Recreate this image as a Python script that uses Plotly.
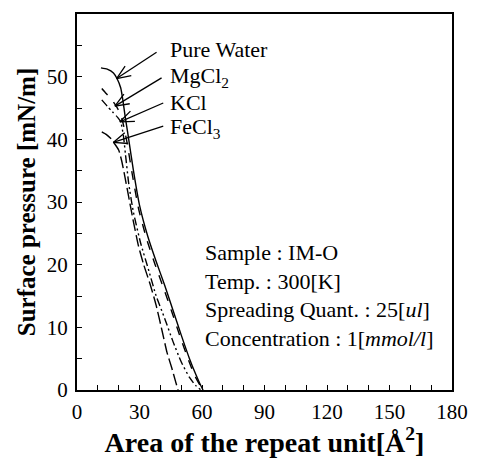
import math
import plotly.graph_objects as go

# ---- data ----
pw_x = [11.5, 14.5, 17.5, 19.2, 21.0, 22.0, 23.0, 24.5, 27.0, 30.0, 34.0, 38.0, 42.0, 46.0, 50.0, 54.0, 57.0, 59.0, 60.5]
pw_y = [51.4, 51.2, 50.6, 49.7, 48.2, 46.3, 43.9, 40.7, 35.2, 29.5, 24.5, 20.5, 16.8, 12.8, 8.8, 5.0, 2.5, 1.0, 0.0]

mg_x = [11.9, 14.0, 16.5, 18.6, 21.0, 22.5, 24.0, 26.5, 29.5, 33.5, 37.5, 41.5, 45.5, 49.5, 53.5, 56.5, 59.0, 61.0]
mg_y = [48.1, 47.3, 46.4, 45.4, 44.0, 42.0, 39.5, 34.5, 29.0, 24.0, 20.0, 16.3, 12.5, 8.5, 4.8, 2.3, 0.8, 0.0]

k_x = [11.9, 14.5, 17.0, 19.5, 21.0, 22.3, 23.3, 24.8, 27.0, 30.5, 34.5, 38.0, 42.0, 46.0, 50.0, 54.0, 57.0, 59.5]
k_y = [46.3, 45.3, 44.4, 43.5, 42.8, 40.5, 37.5, 33.0, 28.5, 23.5, 19.0, 15.0, 11.5, 7.8, 4.5, 2.0, 0.7, 0.0]

fe_x = [11.9, 14.0, 16.0, 17.6, 20.0, 21.5, 23.0, 25.0, 27.0, 29.5, 32.0, 35.0, 38.0, 40.8, 43.2, 45.5, 47.2, 48.5]
fe_y = [41.2, 40.8, 40.2, 39.5, 38.3, 36.5, 34.0, 30.5, 27.0, 23.0, 20.0, 17.0, 13.5, 9.5, 6.0, 3.5, 1.5, 0.0]

labels = ["Pure Water", "MgCl<sub>2</sub>", "KCl", "FeCl<sub>3</sub>"]
label_x = [43.7, 43.7, 43.7, 43.7]
label_y = [54.3, 50.0, 45.8, 41.8]
arrow_tail_x = [38.2, 40.6, 41.4, 41.4]
arrow_tail_y = [53.9, 49.8, 45.8, 42.1]
arrow_head_x = [19.0, 18.2, 20.6, 17.4]
arrow_head_y = [49.7, 45.3, 42.8, 39.5]

info_lines = ["Sample : IM-O", "Temp. : 300[K]", "Spreading Quant. : 25[<i>ul</i>]",
              "Concentration : 1[<i>mmol/l</i>]"]
info_y = [21.9, 17.3, 12.8, 8.2]

x_ticks = [0, 30, 60, 90, 120, 150, 180]
y_ticks = [0, 10, 20, 30, 40, 50, 60]

FONT = "Liberation Serif"
# page body has an 8px margin, so the figure is sized to fit the remaining window
W, H = 477, 450
ML, MR, MT, MB = 69, 33, 6, 68
XR, YR = [0, 180], [0, 60]
PXX = (W - ML - MR) / (XR[1] - XR[0])   # px per x unit
PXY = (H - MT - MB) / (YR[1] - YR[0])   # px per y unit

fig = go.Figure()
series = [(pw_x, pw_y, "solid"), (mg_x, mg_y, "dash"),
          (k_x, k_y, "8px,3px,2px,3px,2px,3px"), (fe_x, fe_y, "12px,4px")]
for xs, ys, dash in series:
    fig.add_trace(go.Scatter(x=xs, y=ys, mode="lines",
                             line=dict(color="black", width=1.4, dash=dash, shape="spline", smoothing=0.5),
                             showlegend=False, hoverinfo="skip"))

# arrows: shaft plus open V head, head geometry built in pixel space
HEAD_LEN, HEAD_ANG = 15.0, math.radians(22)
for tx, ty, hx, hy in zip(arrow_tail_x, arrow_tail_y, arrow_head_x, arrow_head_y):
    dxp = (tx - hx) * PXX
    dyp = (ty - hy) * PXY
    ang = math.atan2(dyp, dxp)
    vx, vy = [], []
    for s in (1, -1):
        a = ang + s * HEAD_ANG
        vx.append(hx + HEAD_LEN * math.cos(a) / PXX)
        vy.append(hy + HEAD_LEN * math.sin(a) / PXY)
    fig.add_trace(go.Scatter(x=[tx, hx, None, vx[0], hx, vx[1]], y=[ty, hy, None, vy[0], hy, vy[1]],
                             mode="lines", line=dict(color="black", width=1.3),
                             showlegend=False, hoverinfo="skip"))

ann = []
for t, lx, ly in zip(labels, label_x, label_y):
    ann.append(dict(x=lx, y=ly, xref="x", yref="y", text=t, showarrow=False, xanchor="left", yanchor="middle",
                    font=dict(family=FONT, size=22, color="black")))
for t, yy in zip(info_lines, info_y):
    ann.append(dict(x=60.5, y=yy, xref="x", yref="y", text=t, showarrow=False, xanchor="left", yanchor="middle",
                    font=dict(family=FONT, size=22, color="black")))

fig.update_layout(
    width=W, height=H,
    margin=dict(l=ML, r=MR, t=MT, b=MB, autoexpand=False),
    paper_bgcolor="white", plot_bgcolor="white",
    font=dict(family=FONT, size=21, color="black"),
    annotations=ann,
    xaxis=dict(range=XR, tickvals=x_ticks, ticks="inside", ticklen=5, tickwidth=1.3, tickcolor="black",
               minor=dict(dtick=10, ticks="inside", ticklen=5, tickwidth=1.3, tickcolor="black"),
               showline=True, linecolor="black", linewidth=2, mirror=True, showgrid=False, zeroline=False,
               automargin=False, ticklabelstandoff=2,
               title=dict(text="<b>Area of the repeat unit[Å<sup>2</sup>]</b>", font=dict(family=FONT, size=28), standoff=2),
               tickfont=dict(family=FONT, size=21)),
    yaxis=dict(range=YR, tickvals=y_ticks, ticks="inside", ticklen=5, tickwidth=1.3, tickcolor="black",
               minor=dict(dtick=5, ticks="inside", ticklen=5, tickwidth=1.3, tickcolor="black"),
               showline=True, linecolor="black", linewidth=2, mirror=True, showgrid=False, zeroline=False,
               automargin=False, ticklabelstandoff=3,
               title=dict(text="<b>Surface pressure [mN/m]</b>", font=dict(family=FONT, size=25), standoff=4),
               tickfont=dict(family=FONT, size=21)),
)

fig.write_html("out.html")
